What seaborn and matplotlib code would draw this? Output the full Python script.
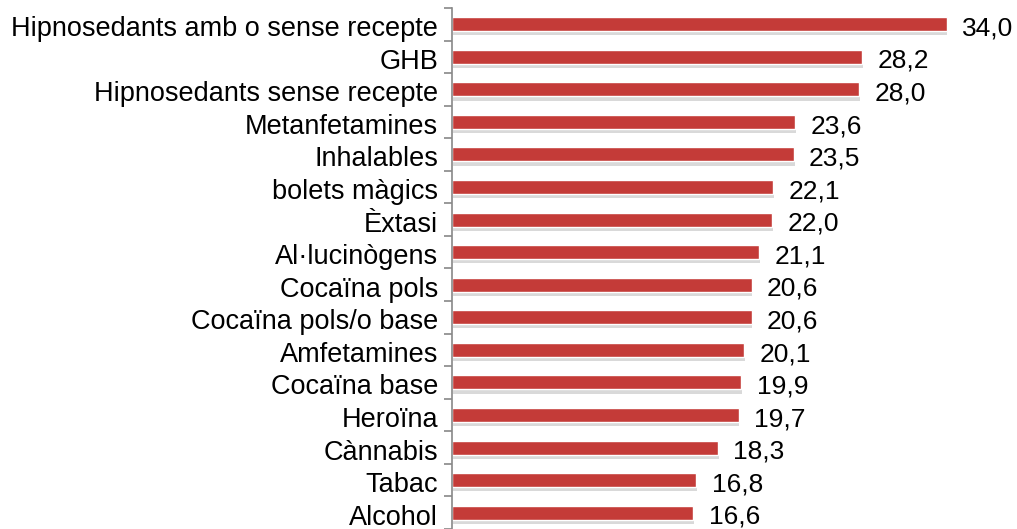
import matplotlib
matplotlib.use("Agg")
import matplotlib.pyplot as plt
import matplotlib.patheffects as pe
import matplotlib.transforms as mtransforms
import numpy as np
import pandas as pd
import seaborn as sns

# data
categories = [
    "Hipnosedants amb o sense recepte", "GHB", "Hipnosedants sense recepte",
    "Metanfetamines", "Inhalables", "bolets màgics", "Èxtasi", "Al·lucinògens",
    "Cocaïna pols", "Cocaïna pols/o base", "Amfetamines", "Cocaïna base",
    "Heroïna", "Cànnabis", "Tabac", "Alcohol",
]
values = [34.0, 28.2, 28.0, 23.6, 23.5, 22.1, 22.0, 21.1,
          20.6, 20.6, 20.1, 19.9, 19.7, 18.3, 16.8, 16.6]

df = pd.DataFrame({"cat": categories, "val": values})

sns.set_theme(style="white")
plt.rcParams["font.family"] = ["Liberation Sans", "DejaVu Sans"]

fig = plt.figure(figsize=(10.17, 5.29), dpi=100)
ax = fig.add_axes([0.4444, 0.0, 0.5436, 0.985])

sns.barplot(data=df, x="val", y="cat", orient="h", color="#C43B38",
            width=0.43, saturation=1, ax=ax)

# soft drop shadow like the original
for p in ax.patches:
    p.set_path_effects([pe.SimplePatchShadow(offset=(0.5, -3), alpha=0.2,
                                             shadow_rgbFace="#444444"),
                        pe.Normal()])

for c in ax.containers:
    texts = ax.bar_label(c, labels=[f"{v:.1f}".replace(".", ",") for v in values],
                         padding=11, fontsize=19, color="black")
    for t in texts:
        t.xyann = (11, -3)

ax.set_xlim(0, 38)
ax.set_ylim(len(categories) - 0.5, -0.5)
ax.set_xlabel("")
ax.set_ylabel("")
ax.set_xticks([])

# ticks between categories, like the original
ax.set_yticks(np.arange(len(categories)), labels=categories)
ax.set_yticks(np.arange(len(categories) + 1) - 0.5, minor=True)
ax.tick_params(axis="y", which="major", length=0, pad=10,
               labelsize=19.5, labelcolor="black")
ax.tick_params(axis="y", which="minor", length=6, width=1.2,
               color="#888888", left=True)
shift = mtransforms.ScaledTranslation(0, -2 / 100, fig.dpi_scale_trans)
for lab in ax.get_yticklabels():
    lab.set_transform(lab.get_transform() + shift)

for s in ["top", "right", "bottom"]:
    ax.spines[s].set_visible(False)
ax.spines["left"].set_color("#888888")
ax.spines["left"].set_linewidth(1.2)

fig.savefig("out.png", dpi=100)
